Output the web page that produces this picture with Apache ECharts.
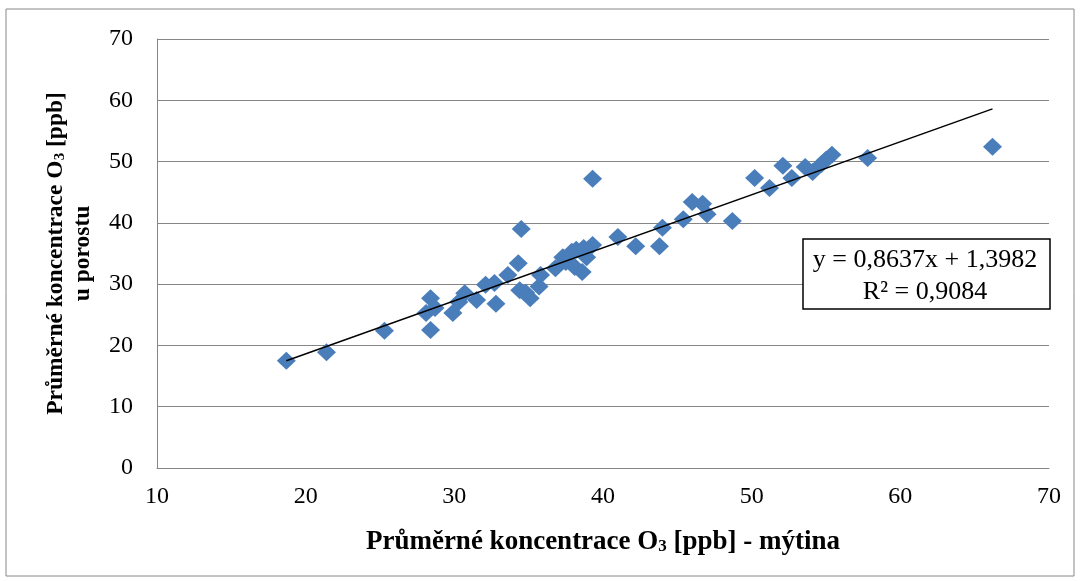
<!DOCTYPE html>
<html>
<head>
<meta charset="utf-8">
<script src="https://cdn.jsdelivr.net/npm/echarts@6/dist/echarts.min.js"></script>
<style>
html, body { margin: 0; padding: 0; background: #fff; }
#chart { width: 1080px; height: 581px; }
</style>
</head>
<body>
<div id="chart"></div>
<script>
// mýtina (x) vs. porost (y)
var mytina = [18.7, 21.4, 25.3, 28.4, 28.1, 28.4, 28.7, 29.9, 30.3, 30.7, 31.5, 32.1, 32.7, 32.8,
	33.6, 34.3, 34.5, 34.4, 34.8, 35.1, 35.7, 35.8, 36.8, 37.3, 37.5, 37.9, 38.1, 38.2, 38.6,
	38.7, 38.9, 39.3, 39.3, 41.0, 42.2, 43.8, 44.0, 45.4, 46.0, 46.7, 47.0, 48.7, 50.2, 51.2,
	52.1, 52.7, 53.6, 54.1, 54.7, 55.0, 55.4, 57.8, 66.2];
var porost = [17.5, 18.9, 22.4, 27.7, 25.3, 22.5, 26.1, 25.3, 27.1, 28.5, 27.4, 29.9, 30.2, 26.8,
	31.5, 33.4, 39.0, 29.0, 28.6, 27.7, 29.6, 31.5, 32.6, 34.4, 33.6, 35.3, 32.8, 35.6, 32.0,
	35.9, 34.4, 36.4, 47.2, 37.7, 36.2, 36.2, 39.2, 40.6, 43.4, 43.1, 41.4, 40.3, 47.3, 45.7,
	49.3, 47.3, 49.1, 48.3, 49.6, 50.3, 51.1, 50.6, 52.4];
// konce spojnice trendu
var trendX = [18.7, 66.2];
var trendY = [17.5, 58.6];
var xTicks = [10, 20, 30, 40, 50, 60, 70];
var yTicks = [0, 10, 20, 30, 40, 50, 60, 70];

var body = [];
for (var i = 0; i < mytina.length; i++) {
	body.push([mytina[i], porost[i]]);
}
var trend = [];
for (var k = 0; k < trendX.length; k++) {
	trend.push([trendX[k], trendY[k]]);
}

var font = '"Liberation Serif", "Times New Roman", serif';
var xRich = {
	b: { fontFamily: font, fontWeight: 'bold', fontSize: 27, color: '#000', lineHeight: 30 },
	sub: { fontFamily: font, fontWeight: 'bold', fontSize: 17, color: '#000', padding: [10, 0, 0, 0] }
};
var yRich = {
	b: { fontFamily: font, fontWeight: 'bold', fontSize: 23.5, color: '#000', lineHeight: 27 },
	sub: { fontFamily: font, fontWeight: 'bold', fontSize: 15, color: '#000', padding: [9, 0, 0, 0] }
};

var myChart = echarts.init(document.getElementById('chart'));
myChart.setOption({
	animation: false,
	backgroundColor: '#fff',
	grid: { left: 157, right: 31, top: 39, bottom: 113, containLabel: false },
	xAxis: {
		type: 'value',
		min: xTicks[0],
		max: xTicks[xTicks.length - 1],
		interval: 10,
		axisLine: { show: true, lineStyle: { color: '#868686', width: 1 } },
		axisTick: { show: false },
		splitLine: { show: false },
		axisLabel: { fontFamily: font, fontSize: 24, color: '#000', margin: 17 },
		name: '{b|Průměrné koncentrace O}{sub|3}{b| [ppb] - mýtina}',
		nameLocation: 'middle',
		nameGap: 59,
		nameTextStyle: { rich: xRich }
	},
	yAxis: {
		type: 'value',
		min: yTicks[0],
		max: yTicks[yTicks.length - 1],
		interval: 10,
		axisLine: { show: true, lineStyle: { color: '#868686', width: 1 } },
		axisTick: { show: false },
		splitLine: { show: true, lineStyle: { color: '#868686', width: 1 } },
		axisLabel: { fontFamily: font, fontSize: 24, color: '#000', margin: 24 },
		name: '{b|Průměrné koncentrace O}{sub|3}{b| [ppb]}\n{b|u porostu}',
		nameLocation: 'middle',
		nameGap: 61,
		nameRotate: 90,
		nameTextStyle: { rich: yRich, align: 'center' }
	},
	series: [
		{
			type: 'scatter',
			data: body,
			symbol: 'diamond',
			symbolSize: [19, 18],
			itemStyle: { color: '#4A7EBB', opacity: 1 },
			z: 3
		},
		{
			type: 'line',
			data: trend,
			symbol: 'none',
			lineStyle: { color: '#000', width: 1.5 },
			z: 4
		}
	],
	graphic: [
		{
			type: 'rect',
			shape: { x: 6, y: 9, width: 1068, height: 567 },
			style: { fill: 'none', stroke: '#888', lineWidth: 1 },
			silent: true
		},
		{
			type: 'rect',
			shape: { x: 803, y: 239, width: 247, height: 70 },
			style: { fill: '#fff', stroke: '#000', lineWidth: 1.5 },
			z: 10
		},
		{
			type: 'text',
			x: 925,
			y: 276,
			style: {
				text: 'y = 0,8637x + 1,3982\nR² = 0,9084',
				font: '26px ' + font,
				fill: '#000',
				align: 'center',
				verticalAlign: 'middle',
				lineHeight: 32
			},
			z: 11
		}
	]
});
</script>
</body>
</html>
